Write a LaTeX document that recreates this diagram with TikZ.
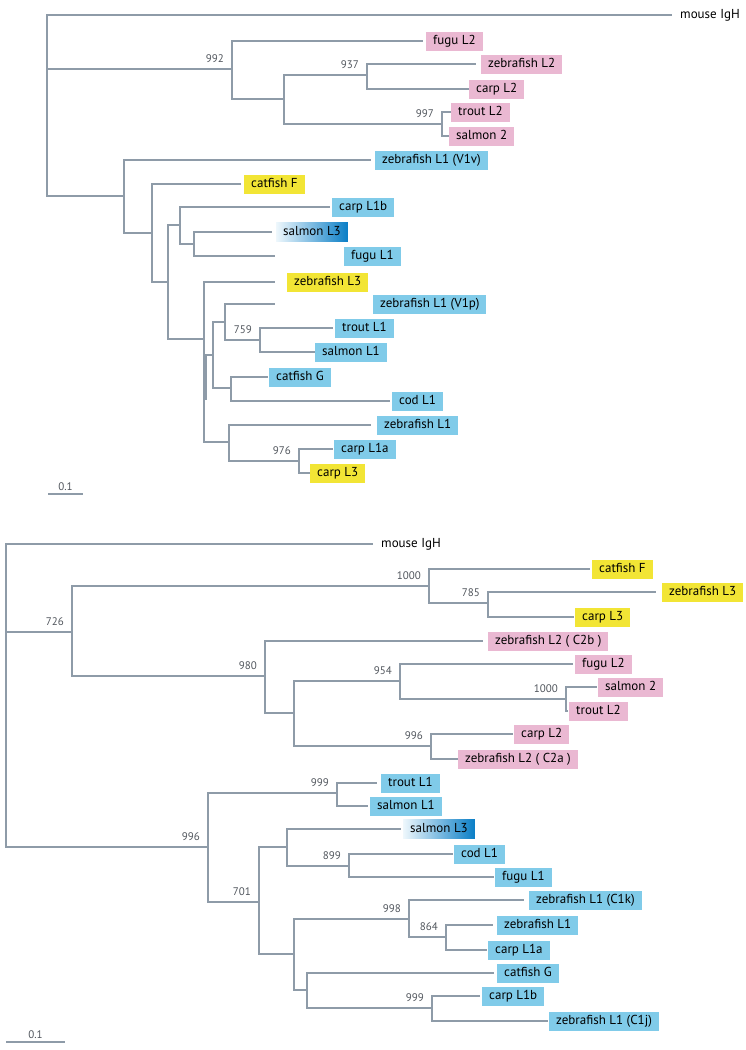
\documentclass[tikz,border=0pt]{standalone}
\usepackage{fontspec}
\setmainfont{PT Sans}
\usepackage{tikz}
\usetikzlibrary{calc}

\definecolor{linegray}{HTML}{8E9BA8}
\definecolor{bsgray}{HTML}{50555C}
\definecolor{boxpink}{HTML}{EAB8D2}
\definecolor{boxblue}{HTML}{80CBE9}
\definecolor{boxyellow}{HTML}{F2E535}
\definecolor{shadelight}{HTML}{EEF7FC}
\definecolor{shadedark}{HTML}{0A7EC6}

\tikzset{
  branch/.style={draw=linegray, line width=1.2pt},
  leafbox/.style={anchor=west, inner xsep=7pt, inner ysep=0pt, minimum height=19pt,
    text height=9.5pt, text depth=2.5pt, font=\fontsize{13}{15}\selectfont},
  pinkbox/.style={leafbox, fill=boxpink},
  bluebox/.style={leafbox, fill=boxblue},
  yellowbox/.style={leafbox, fill=boxyellow},
  shadebox/.style={leafbox, left color=shadelight, right color=shadedark},
  plainlabel/.style={leafbox, inner xsep=0pt},
  bslabel/.style={anchor=south east, inner sep=0pt, text=bsgray, font=\fontsize{11}{13}\selectfont},
}

\begin{document}
\begin{tikzpicture}[x=1pt, y=-1pt]
\useasboundingbox (0,0) rectangle (745,1050);

% upper tree: inner nodes
\foreach \nm/\x/\y in {t0/47/105, t1/232/69, t2/284/99, t3/367/75, t4/442/124,
  t5/124/196, t6/152/233, t7/168/282, t8/180/225, t9/194/244, t10/204/339,
  t11/213/355, t12/225/322, t13/260/340, t14/231/388, t15/229/442, t16/299/461}
  \coordinate (\nm) at (\x,\y);

% upper tree: leaves (end of branch / left of box / y / text)
\foreach \nm/\sty/\lx/\bx/\y/\txt in {
  tmouse/plainlabel/672/680/15/mouse IgH,
  tfugu2/pinkbox/423/426/41/fugu L2,
  tzeb2/pinkbox/476/481/64/zebrafish L2,
  tcarp2/pinkbox/469/469/89/carp L2,
  ttrout2/pinkbox/451/451/112/trout L2,
  tsalm2/pinkbox/449/449/136/salmon 2,
  tzebv/bluebox/371/375/160/zebrafish L1 (V1v),
  tcatf/yellowbox/241/244/184/catfish F,
  tcarp1b/bluebox/330/332/207/carp L1b,
  tsalm3/shadebox/272/276/232/salmon L3,
  tfugu1/bluebox/275/344/256/fugu L1,
  tzeb3/yellowbox/275/287/282/zebrafish L3,
  tzebp/bluebox/275/373/304/zebrafish L1 (V1p),
  ttrout1/bluebox/333/335/328/trout L1,
  tsalm1/bluebox/315/315/352/salmon L1,
  tcatg/bluebox/268/269/377/catfish G,
  tcod1/bluebox/390/392/401/cod L1,
  tzeb1/bluebox/371/377/425/zebrafish L1,
  tcarp1a/bluebox/333/334/449/carp L1a,
  tcarp3/yellowbox/310/310/473/carp L3}
{
  \coordinate (\nm) at (\lx,\y);
  \node[\sty] (\nm-box) at (\bx,\y) {\txt};
}

\foreach \p/\c in {t0/tmouse, t0/t1, t0/t5, t1/tfugu2, t1/t2, t2/t3, t2/t4,
  t3/tzeb2, t3/tcarp2, t4/ttrout2, t4/tsalm2, t5/tzebv, t5/t6, t6/tcatf, t6/t7,
  t7/t8, t7/t10, t8/tcarp1b, t8/t9, t9/tsalm3, t9/tfugu1, t10/tzeb3, t10/t11,
  t10/t15, t11/t12, t11/t14, t12/tzebp, t12/t13, t13/ttrout1, t13/tsalm1,
  t14/tcatg, t14/tcod1, t15/tzeb1, t15/t16, t16/tcarp1a, t16/tcarp3}
  \draw[branch] (\p) |- (\c);
\draw[branch] (206,355) -- (206,400);

\foreach \nm/\val in {t1/992, t3/937, t4/997, t13/759, t16/976}
  \node[bslabel] (\nm-bs) at ([shift={(-8,-6)}]\nm) {\val};

% scale bar, upper
\coordinate (sbt-a) at (48,494);
\coordinate (sbt-b) at (83,494);
\draw[branch] (sbt-a) -- (sbt-b);
\node[bslabel, anchor=south] (sbt-txt) at ($(sbt-a)!0.5!(sbt-b)+(0,-3)$) {0.1};

% lower tree: inner nodes
\foreach \nm/\x/\y in {b0/6/700, b1/72/632, b2/429/586, b3/488/603, b4/265/676,
  b5/294/713, b6/400/681, b7/566/699, b8/431/746, b9/208/847, b10/337/793,
  b11/259/902, b12/287/847, b13/349/866, b14/294/954, b15/409/919, b16/446/937,
  b17/307/990, b18/432/1008}
  \coordinate (\nm) at (\x,\y);

% lower tree: leaves
\foreach \nm/\sty/\lx/\bx/\y/\txt in {
  bmouse/plainlabel/373/381/544/mouse IgH,
  bcatf/yellowbox/590/592/569/catfish F,
  bzeb3/yellowbox/656/662/592/zebrafish L3,
  bcarp3/yellowbox/574/575/617/carp L3,
  bzebctwob/pinkbox/483/488/641/zebrafish L2 ( C2b ),
  bfugu2/pinkbox/573/575/664/fugu L2,
  bsalm2/pinkbox/597/598/687/salmon 2,
  btrout2/pinkbox/568/569/711/trout L2,
  bcarp2/pinkbox/513/514/734/carp L2,
  bzebctwoa/pinkbox/458/458/759/zebrafish L2 ( C2a ),
  btrout1/bluebox/377/381/783/trout L1,
  bsalm1/bluebox/368/370/806/salmon L1,
  bsalm3/shadebox/401/403/829/salmon L3,
  bcod1/bluebox/453/454/854/cod L1,
  bfugu1/bluebox/494/495/877/fugu L1,
  bzebck/bluebox/524/529/900/zebrafish L1 (C1k),
  bzeb1/bluebox/493/497/925/zebrafish L1,
  bcarp1a/bluebox/487/488/950/carp L1a,
  bcatg/bluebox/494/497/973/catfish G,
  bcarp1b/bluebox/480/482/996/carp L1b,
  bzebcj/bluebox/548/549/1021/zebrafish L1 (C1j)}
{
  \coordinate (\nm) at (\lx,\y);
  \node[\sty] (\nm-box) at (\bx,\y) {\txt};
}

\foreach \p/\c in {b0/bmouse, b0/b1, b0/b9, b1/b2, b1/b4, b2/bcatf, b2/b3,
  b3/bzeb3, b3/bcarp3, b4/bzebctwob, b4/b5, b5/b6, b5/b8, b6/bfugu2, b6/b7,
  b7/bsalm2, b7/btrout2, b8/bcarp2, b8/bzebctwoa, b9/b10, b9/b11, b10/btrout1,
  b10/bsalm1, b11/b12, b11/b14, b12/bsalm3, b12/b13, b13/bcod1, b13/bfugu1,
  b14/b15, b14/b17, b15/bzebck, b15/b16, b16/bzeb1, b16/bcarp1a, b17/bcatg,
  b17/b18, b18/bcarp1b, b18/bzebcj}
  \draw[branch] (\p) |- (\c);

\foreach \nm/\val in {b1/726, b2/1000, b3/785, b4/980, b6/954, b7/1000, b8/996,
  b9/996, b10/999, b11/701, b13/899, b15/998, b16/864, b18/999}
  \node[bslabel] (\nm-bs) at ([shift={(-8,-6)}]\nm) {\val};

% scale bar, lower
\coordinate (sbb-a) at (6,1042);
\coordinate (sbb-b) at (65,1042);
\draw[branch] (sbb-a) -- (sbb-b);
\node[bslabel, anchor=south] (sbb-txt) at ($(sbb-a)!0.5!(sbb-b)+(0,-3)$) {0.1};
\end{tikzpicture}
\end{document}
